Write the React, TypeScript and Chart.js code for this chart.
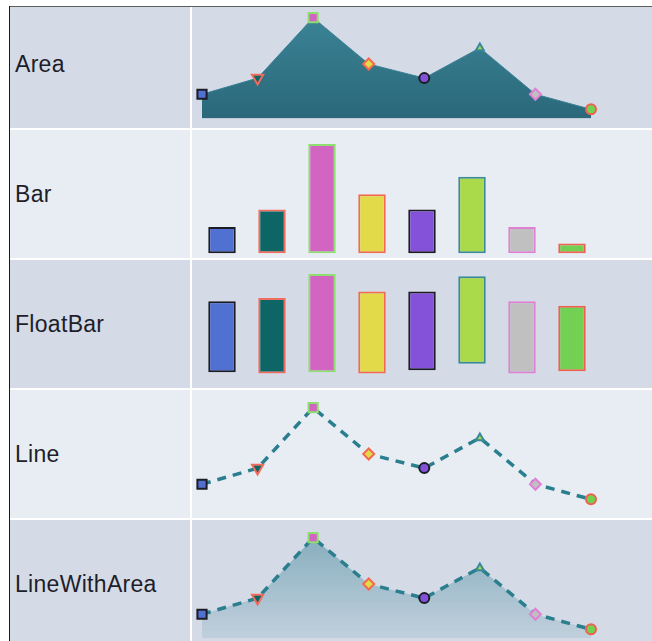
import React, { useEffect, useRef } from "react";
import Chart from "chart.js/auto";

const rowLabels = ["Area", "Bar", "FloatBar", "Line", "LineWithArea"];
const categories = ["1", "2", "3", "4", "5", "6", "7", "8"];
const seriesValues = [24, 40, 100, 54, 40, 70, 24, 9];
const floatLow = [10, 9, 10, 9, 12, 18, 9, 11];
const floatHigh = [75, 78, 100, 84, 84, 98, 75, 71];
const fillColors = ["#5070d2", "#0d6665", "#d264c2", "#e2da48", "#8452d8", "#aad94a", "#c0c0c0", "#72d052"];
const borderColors = ["#1c1c24", "#f06c5c", "#8ede70", "#f26a52", "#1c1c24", "#3a8a9a", "#e080d4", "#f0604e"];
const pointStyles = ["rect", "triangle", "rect", "rectRot", "circle", "triangle", "rectRot", "circle"];
const pointRotations = [0, 180, 0, 0, 0, 0, 0, 0];
const pointSizes = [6.5, 6.5, 6.5, 5.5, 5, 4.5, 5.5, 5];

const LINE_PAD = { left: 10, right: 61, top: 17.7, bottom: 9.6 };
const BAR_PAD = { left: 5, right: 55, top: 14, bottom: 4.7 };

function pointOpts() {
  return {
    pointStyle: pointStyles,
    pointRotation: pointRotations,
    pointRadius: pointSizes,
    pointHoverRadius: pointSizes,
    pointBackgroundColor: fillColors,
    pointBorderColor: borderColors,
    pointBorderWidth: 2,
  };
}

function gradientFill(top: string, bottom: string) {
  return (ctx: any) => {
    const chart = ctx.chart;
    const area = chart.chartArea;
    if (!area) return top;
    const g = chart.ctx.createLinearGradient(0, area.top, 0, area.bottom);
    g.addColorStop(0, top);
    g.addColorStop(1, bottom);
    return g;
  };
}

function makeConfig(kind: string): any {
  const base: any = {
    options: {
      animation: false,
      responsive: false,
      devicePixelRatio: 1,
      events: [],
      plugins: { legend: { display: false }, tooltip: { enabled: false } },
      scales: {
        x: { display: false },
        y: { display: false, min: 0, max: 100 },
      },
      layout: { padding: LINE_PAD },
    },
  };
  if (kind === "Area") {
    base.type = "line";
    base.data = {
      labels: categories,
      datasets: [
        {
          data: seriesValues,
          fill: "origin",
          clip: false,
          tension: 0,
          borderColor: "#3a8194",
          borderWidth: 1,
          backgroundColor: gradientFill("#3a8395", "#2a687a"),
          ...pointOpts(),
        },
      ],
    };
  } else if (kind === "Bar" || kind === "FloatBar") {
    base.type = "bar";
    base.options.layout.padding = BAR_PAD;
    base.data = {
      labels: categories,
      datasets: [
        {
          data: kind === "Bar" ? seriesValues : floatLow.map((lo, i) => [lo, floatHigh[i]]),
          backgroundColor: fillColors,
          borderColor: borderColors,
          borderWidth: 2,
          borderSkipped: false,
          barPercentage: 0.55,
          categoryPercentage: 1,
          clip: false,
        },
      ],
    };
  } else {
    base.type = "line";
    base.data = {
      labels: categories,
      datasets: [
        {
          data: seriesValues,
          fill: kind === "LineWithArea" ? "origin" : false,
          clip: false,
          tension: 0,
          borderColor: "#2a7e8d",
          borderWidth: 3.5,
          borderDash: [9, 7],
          backgroundColor:
            kind === "LineWithArea"
              ? gradientFill("rgba(60,130,150,0.50)", "rgba(60,130,150,0.12)")
              : "transparent",
          ...pointOpts(),
        },
      ],
    };
  }
  return base;
}

function RowChart({ kind }: { kind: string }) {
  const ref = useRef<HTMLCanvasElement | null>(null);
  useEffect(() => {
    if (!ref.current) return;
    const chart = new Chart(ref.current, makeConfig(kind));
    return () => chart.destroy();
  }, [kind]);
  return <canvas ref={ref} width={460} height={128} style={{ display: "block", width: 460, height: 128 }} />;
}

export default function App() {
  return (
    <div
      style={{
        position: "absolute",
        left: 0,
        top: 0,
        width: 652,
        height: 641,
        overflow: "hidden",
        background: "#ffffff",
        fontFamily: '"Liberation Sans", Arial, sans-serif',
      }}
    >
      {rowLabels.map((label, i) => {
        const bg = i % 2 === 0 ? "#d4dbe7" : "#e8edf4";
        return (
          <React.Fragment key={label}>
            <div
              style={{
                position: "absolute",
                left: 10,
                top: i * 130,
                width: 180,
                height: 128,
                background: bg,
                display: "flex",
                alignItems: "center",
                paddingLeft: 5,
                boxSizing: "border-box",
                fontSize: 23,
                letterSpacing: 0.3,
                color: "#1e1e2a",
              }}
            >
              {label}
            </div>
            <div
              style={{
                position: "absolute",
                left: 192,
                top: i * 130,
                width: 460,
                height: 128,
                background: bg,
              }}
            >
              <RowChart kind={label} />
            </div>
          </React.Fragment>
        );
      })}
      <div style={{ position: "absolute", left: 0, top: 0, width: 652, height: 6, background: "#ffffff" }} />
      <div style={{ position: "absolute", left: 0, top: 0, width: 9, height: 641, background: "#ffffff" }} />
      <div style={{ position: "absolute", left: 9, top: 6, width: 643, height: 1, background: "#5e5e5e" }} />
      <div style={{ position: "absolute", left: 9, top: 6, width: 1, height: 635, background: "#1a1a1a" }} />
    </div>
  );
}
